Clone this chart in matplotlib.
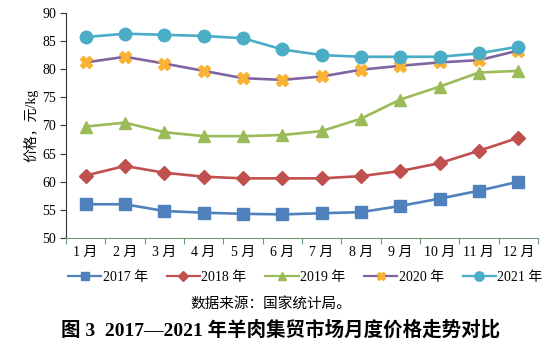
import matplotlib
matplotlib.use("Agg")
import matplotlib.pyplot as plt
from matplotlib.lines import Line2D

plt.rcParams['font.family'] = ['Liberation Serif', 'Noto Sans CJK SC', 'DejaVu Sans']

months = ["1 月", "2 月", "3 月", "4 月", "5 月", "6 月", "7 月", "8 月", "9 月", "10 月", "11 月", "12 月"]
y2017 = [56.0, 56.0, 54.8, 54.5, 54.3, 54.2, 54.4, 54.6, 55.7, 57.0, 58.4, 60.0]
y2018 = [61.1, 62.8, 61.6, 60.9, 60.6, 60.6, 60.6, 61.0, 61.9, 63.3, 65.5, 67.8]
y2019 = [69.8, 70.5, 68.8, 68.1, 68.1, 68.3, 69.0, 71.2, 74.6, 76.9, 79.4, 79.7]
y2020 = [81.2, 82.2, 81.0, 79.7, 78.4, 78.1, 78.7, 79.9, 80.6, 81.2, 81.6, 83.3]
y2021 = [85.7, 86.3, 86.1, 85.9, 85.5, 83.5, 82.5, 82.2, 82.2, 82.2, 82.8, 84.0]
labels = ["2017 年", "2018 年", "2019 年", "2020 年", "2021 年"]

fig = plt.figure(figsize=(5.5, 3.48), dpi=100)
ax = fig.add_axes([0.12, 0.316, 0.858, 0.647])

x = list(range(len(months)))
series = [
    (y2017, dict(color='#4F81BD', marker='s', markersize=8, markerfacecolor='#4F81BD', markeredgecolor='#4F81BD')),
    (y2018, dict(color='#C0504D', marker='D', markersize=7, markerfacecolor='#C0504D', markeredgecolor='#C0504D')),
    (y2019, dict(color='#9BBB59', marker='^', markersize=8.5, markerfacecolor='#9BBB59', markeredgecolor='#9BBB59')),
    (y2020, dict(color='#8064A2', marker='X', markersize=8.5, markerfacecolor='#F9B233', markeredgecolor='#F9B233')),
    (y2021, dict(color='#4BACC6', marker='o', markersize=9, markerfacecolor='#4BACC6', markeredgecolor='#4BACC6')),
]
handles = []
for (vals, st), lab in zip(series, labels):
    ax.plot(x, vals, linewidth=1.9, label=lab, **st)
    handles.append(Line2D([0], [0], linewidth=1.6, color=st['color'], marker=st['marker'],
                          markersize=st['markersize'] * 0.75, markerfacecolor=st['markerfacecolor'],
                          markeredgecolor=st['markeredgecolor']))

ax.set_xlim(-0.5, len(months) - 0.5)
ax.set_ylim(50, 90)
ax.set_yticks(range(50, 91, 5))
ax.set_xticks([i - 0.5 for i in range(len(months) + 1)], minor=False)
ax.set_xticklabels([])
ax.set_xticks(x, minor=True)
ax.set_xticklabels(months, minor=True, fontsize=10)
ax.tick_params(axis='x', which='minor', length=0, pad=6)
ax.tick_params(axis='x', which='major', length=4, color='#6A9A78', direction='out')
ax.tick_params(axis='y', length=4, color='#333333', labelsize=10, direction='out', pad=3)

for s in ['top', 'right']:
    ax.spines[s].set_visible(False)
ax.spines['left'].set_color('#333333')
ax.spines['bottom'].set_color('#6A9A78')
ax.set_ylabel("价格，元/kg", fontsize=10, labelpad=3)

fig.legend(handles, labels, loc='center', bbox_to_anchor=(0.555, 0.204), ncol=5, frameon=False,
           fontsize=10, handlelength=2.4, handletextpad=0.1, columnspacing=1.35)

fig.text(0.493, 0.124, "数据来源：国家统计局。", ha='center', va='center', fontsize=10.5)
fig.text(0.511, 0.054, "图 3  2017—2021 年羊肉集贸市场月度价格走势对比", ha='center', va='center',
         fontsize=14, fontweight='bold')

fig.savefig("out.png", dpi=100)
